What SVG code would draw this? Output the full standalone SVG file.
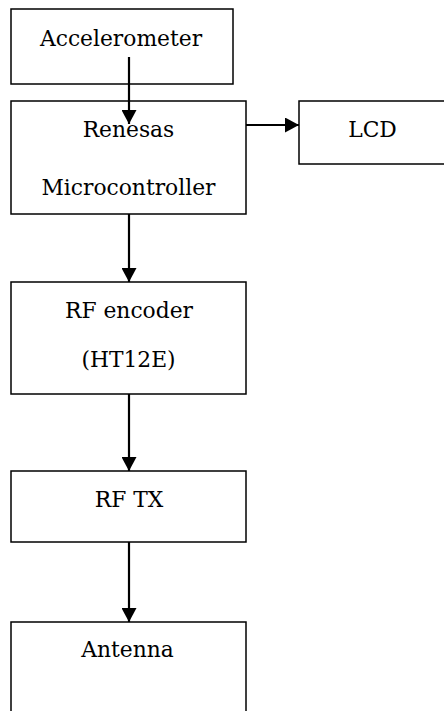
<svg xmlns="http://www.w3.org/2000/svg" width="444" height="711" viewBox="0 0 444 711">
<style>
.box{fill:#fff;stroke:#000;stroke-width:1.5}
.lbl{font-family:"DejaVu Serif","Liberation Serif",serif;font-size:21.8px;fill:#000;text-anchor:middle}
.conn{stroke:#000;stroke-width:2.2;fill:none}
</style>
<defs>
<marker id="ah" viewBox="0 0 14 15" refX="14" refY="7.5" markerWidth="14" markerHeight="15" markerUnits="userSpaceOnUse" orient="auto">
<path d="M0,0 L14,7.5 L0,15 Z" fill="#000"/>
</marker>
</defs>
<rect width="444" height="711" fill="#fff"/>
<g id="accelerometer"><rect class="box" x="11" y="9" width="222" height="75"/><text class="lbl" x="121" y="46">Accelerometer</text></g>
<g id="renesas"><rect class="box" x="11" y="101" width="235" height="113"/><text class="lbl" x="128.5" y="137">Renesas</text><text class="lbl" x="128.5" y="195">Microcontroller</text></g>
<g id="lcd"><rect class="box" x="299" y="101" width="150" height="63"/><text class="lbl" x="372.5" y="137">LCD</text></g>
<g id="rfencoder"><rect class="box" x="11" y="282" width="235" height="112"/><text class="lbl" x="129" y="318">RF encoder</text><text class="lbl" x="128.5" y="367">(HT12E)</text></g>
<g id="rftx"><rect class="box" x="11" y="471" width="235" height="71"/><text class="lbl" x="129" y="507">RF TX</text></g>
<g id="antenna"><rect class="box" x="11" y="622" width="235" height="100"/><text class="lbl" x="127.5" y="657">Antenna</text></g>
<g id="connectors">
<line class="conn" x1="129" y1="57" x2="129" y2="124" marker-end="url(#ah)"/>
<line class="conn" x1="246" y1="125" x2="299" y2="125" marker-end="url(#ah)"/>
<line class="conn" x1="129" y1="214" x2="129" y2="282" marker-end="url(#ah)"/>
<line class="conn" x1="129" y1="394" x2="129" y2="471" marker-end="url(#ah)"/>
<line class="conn" x1="129" y1="542" x2="129" y2="622" marker-end="url(#ah)"/>
</g>
</svg>
